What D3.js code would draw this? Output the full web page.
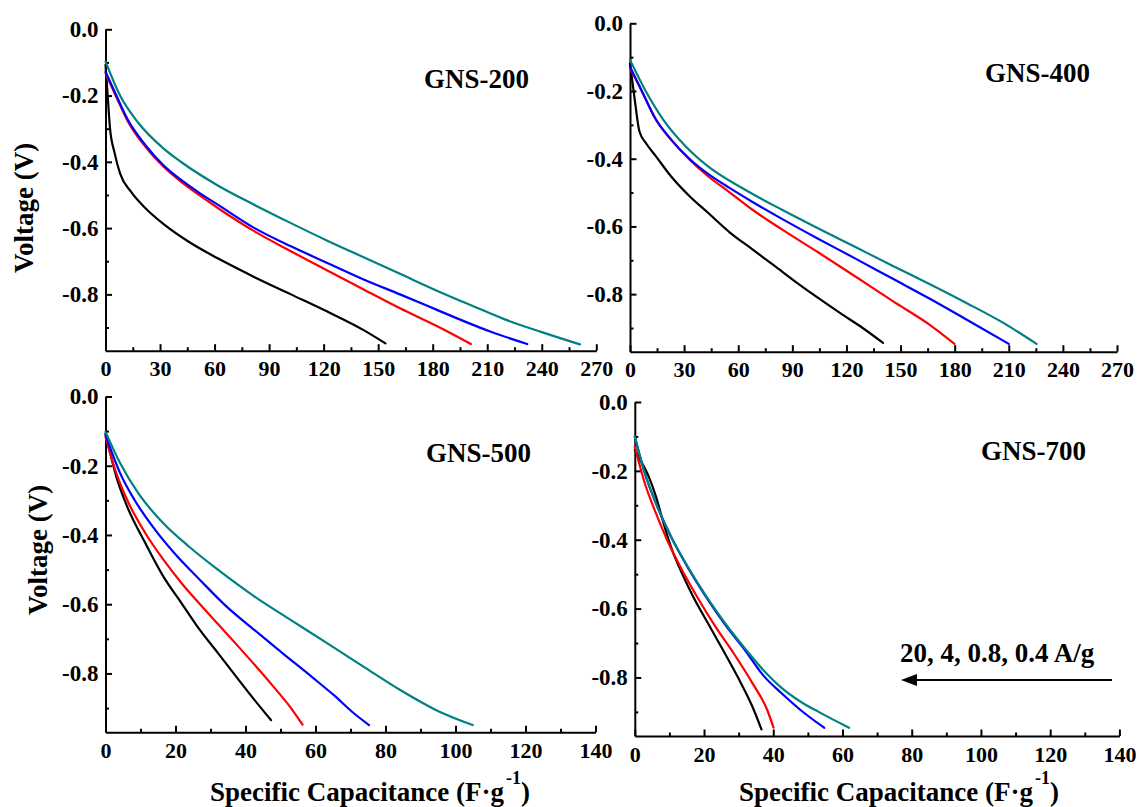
<!DOCTYPE html>
<html><head><meta charset="utf-8">
<script src="https://cdn.jsdelivr.net/npm/d3@7"></script>
<style>
body{margin:0;background:#fff}
svg{display:block;background:#fff}
text{font-family:"Liberation Serif","Times New Roman",serif;font-weight:bold;fill:#000}
</style>
</head><body>
<svg id="chart" width="1139" height="807"></svg>
<script>
// ---------- data ----------
const seriesNames = ["20 A/g", "4 A/g", "0.8 A/g", "0.4 A/g"];
const seriesColors = ["#000000", "#ff0000", "#0000ff", "#008080"];
const panelTitles = ["GNS-200", "GNS-400", "GNS-500", "GNS-700"];
const xTicksWide = [0, 30, 60, 90, 120, 150, 180, 210, 240, 270];
const xMinorWide = [15, 45, 75, 105, 135, 165, 195, 225, 255];
const xTicksNarrow = [0, 20, 40, 60, 80, 100, 120, 140];
const xMinorNarrow = [10, 30, 50, 70, 90, 110, 130];
const yTicks = [0, -0.2, -0.4, -0.6, -0.8];
const yMinor = [-0.1, -0.3, -0.5, -0.7, -0.9];
const xTitle = "Specific Capacitance (F·g";
const xTitleSup = "-1";
const yTitle = "Voltage (V)";
const rateNote = "20, 4, 0.8, 0.4 A/g";

// [capacitance F/g, voltage V]
const gns200_20 = [[0,-0.107],[1.2,-0.2],[2.5,-0.30],[5,-0.373],[8,-0.435],[14,-0.49],[22,-0.54],[32,-0.588],[46,-0.642],[62,-0.692],[82,-0.748],[102,-0.8],[122,-0.852],[142,-0.908],[154,-0.948]];
const gns200_4 = [[0,-0.133],[6,-0.205],[12,-0.275],[22,-0.355],[32,-0.415],[42,-0.462],[52,-0.502],[62,-0.54],[82,-0.61],[102,-0.67],[122,-0.728],[142,-0.785],[162,-0.842],[182,-0.895],[201,-0.95]];
const gns200_08 = [[0,-0.128],[6,-0.2],[12,-0.27],[22,-0.35],[32,-0.411],[42,-0.456],[52,-0.495],[62,-0.53],[82,-0.6],[102,-0.655],[122,-0.705],[142,-0.755],[162,-0.8],[182,-0.846],[195,-0.876],[212,-0.913],[232,-0.95]];
const gns200_04 = [[0,-0.097],[8,-0.2],[18,-0.282],[32,-0.36],[42,-0.402],[62,-0.472],[82,-0.53],[102,-0.585],[122,-0.638],[142,-0.688],[162,-0.738],[182,-0.788],[202,-0.835],[219,-0.874],[240,-0.914],[261,-0.951]];

const gns400_20 = [[0,-0.118],[2.5,-0.22],[5.2,-0.319],[9,-0.355],[14.4,-0.393],[22.6,-0.451],[32.9,-0.51],[43.1,-0.559],[55.4,-0.618],[67.7,-0.667],[80,-0.716],[92.2,-0.765],[104.5,-0.812],[116.8,-0.857],[129,-0.9],[140.3,-0.944]];
const gns400_4 = [[0,-0.132],[6.2,-0.196],[14.4,-0.285],[22.6,-0.343],[32.9,-0.402],[43.1,-0.451],[55.4,-0.5],[67.7,-0.55],[84,-0.608],[104.5,-0.677],[125,-0.748],[145.5,-0.82],[166,-0.89],[179.9,-0.947]];
const gns400_08 = [[0,-0.128],[6.2,-0.196],[14.4,-0.284],[22.6,-0.342],[32.9,-0.4],[43.1,-0.444],[55.4,-0.487],[67.7,-0.527],[84,-0.577],[104.5,-0.637],[125,-0.695],[145.5,-0.754],[166,-0.813],[186.5,-0.875],[210,-0.947]];
const gns400_04 = [[0,-0.108],[8.3,-0.196],[18.5,-0.285],[30.8,-0.363],[43.1,-0.422],[63.6,-0.491],[84,-0.55],[104.5,-0.606],[125,-0.661],[145.5,-0.716],[166,-0.77],[186.5,-0.826],[207,-0.885],[225.4,-0.947]];

const gns500_20 = [[0,-0.107],[3.1,-0.232],[6.2,-0.318],[11.4,-0.424],[16.6,-0.521],[21.8,-0.598],[27,-0.675],[32.2,-0.742],[37.4,-0.81],[42.6,-0.877],[47.3,-0.935]];
const gns500_4 = [[0,-0.116],[3.1,-0.222],[6.2,-0.299],[11.4,-0.395],[16.6,-0.472],[21.8,-0.54],[27,-0.6],[32.2,-0.658],[37.4,-0.716],[42.6,-0.775],[47.8,-0.836],[53,-0.9],[56.3,-0.948]];
const gns500_08 = [[0,-0.111],[4.2,-0.222],[8.3,-0.299],[13.5,-0.376],[19.7,-0.453],[27,-0.53],[34.3,-0.604],[42.6,-0.675],[50.9,-0.744],[59.2,-0.812],[65.5,-0.865],[70.6,-0.912],[75.3,-0.949]];
const gns500_04 = [[0,-0.102],[4.2,-0.193],[9.4,-0.28],[16.6,-0.367],[23.9,-0.434],[32.2,-0.501],[42.6,-0.578],[53,-0.646],[63.4,-0.713],[73.8,-0.781],[84.2,-0.848],[94.5,-0.906],[104.9,-0.949]];

const gns700_20 = [[0,-0.139],[1.3,-0.163],[4,-0.216],[6.1,-0.274],[8.3,-0.352],[10.4,-0.419],[13.6,-0.497],[16.8,-0.564],[21.1,-0.642],[25.4,-0.719],[29.6,-0.796],[33.9,-0.883],[36.6,-0.951]];
const gns700_4 = [[0,-0.129],[2.9,-0.236],[6.1,-0.323],[9.3,-0.4],[13.6,-0.487],[17.9,-0.564],[23.2,-0.651],[28.5,-0.729],[33.9,-0.815],[38.2,-0.893],[40.1,-0.946]];
const gns700_08 = [[0,-0.1],[2.9,-0.207],[6.1,-0.294],[10.4,-0.39],[15.7,-0.487],[21.1,-0.574],[26.4,-0.651],[31.7,-0.719],[37.1,-0.794],[42.4,-0.846],[47.7,-0.893],[54.7,-0.946]];
const gns700_04 = [[0,-0.1],[2.9,-0.207],[6.1,-0.294],[10.4,-0.39],[15.7,-0.485],[21.1,-0.571],[26.4,-0.647],[31.7,-0.714],[37.1,-0.778],[42.4,-0.83],[47.7,-0.869],[53.1,-0.9],[61.9,-0.946]];

// ---------- layout ----------
const panels = [
  {title: panelTitles[0], series:[gns200_20,gns200_4,gns200_08,gns200_04], xMax:270, ticks:xTicksWide, minor:xMinorWide,
   x0:105.5, x1:596.3, yT:29.3, yB:350.7, tx:424, ty:88, yTitleX:33, yTitleY:208, showY:true, showX:false},
  {title: panelTitles[1], series:[gns400_20,gns400_4,gns400_08,gns400_04], xMax:270, ticks:xTicksWide, minor:xMinorWide,
   x0:630, x1:1117, yT:23.3, yB:351.7, tx:985, ty:82, showY:false, showX:false},
  {title: panelTitles[2], series:[gns500_20,gns500_4,gns500_08,gns500_04], xMax:140, ticks:xTicksNarrow, minor:xMinorNarrow,
   x0:105.5, x1:595.5, yT:396.5, yB:732.3, tx:426, ty:462, yTitleX:47, yTitleY:550, showY:true, showX:true, xTitleX:370},
  {title: panelTitles[3], series:[gns700_20,gns700_4,gns700_08,gns700_04], xMax:140, ticks:xTicksNarrow, minor:xMinorNarrow,
   x0:634.8, x1:1119.4, yT:402, yB:736, tx:981, ty:460, showY:false, showX:true, xTitleX:899}
];
const yMin = -0.97;

const svg = d3.select("#chart");
svg.append("rect").attr("width",1139).attr("height",807).attr("fill","#fff");

function styleAxis(g, fs){
  g.attr("font-family", null).attr("font-size", null);
  g.selectAll("path.domain").attr("stroke","#000").attr("stroke-width",2);
  g.selectAll(".tick line").attr("stroke","#000").attr("stroke-width",2);
  g.selectAll(".tick text").attr("font-size", fs).attr("fill","#000");
}

panels.forEach(p => {
  const x = d3.scaleLinear().domain([0, p.xMax]).range([p.x0, p.x1]);
  const y = d3.scaleLinear().domain([yMin, 0]).range([p.yB, p.yT]);
  const g = svg.append("g");

  // minor ticks
  g.append("g").attr("transform",`translate(0,${p.yB})`)
    .call(d3.axisBottom(x).tickValues(p.minor).tickSize(-3.5).tickFormat(""))
    .call(s => { s.select(".domain").remove(); s.selectAll(".tick line").attr("stroke","#000").attr("stroke-width",2); });
  g.append("g").attr("transform",`translate(${p.x0},0)`)
    .call(d3.axisLeft(y).tickValues(yMinor).tickSize(-3.5).tickFormat(""))
    .call(s => { s.select(".domain").remove(); s.selectAll(".tick line").attr("stroke","#000").attr("stroke-width",2); });

  // major axes
  g.append("g").attr("transform",`translate(0,${p.yB})`)
    .call(d3.axisBottom(x).tickValues(p.ticks).tickSizeInner(-6.5).tickSizeOuter(0).tickPadding(10).tickFormat(d3.format("d")))
    .call(s => styleAxis(s, 22));
  g.append("g").attr("transform",`translate(${p.x0},0)`)
    .call(d3.axisLeft(y).tickValues(yTicks).tickSizeInner(-6.5).tickSizeOuter(0).tickPadding(7).tickFormat(d => d.toFixed(1)))
    .call(s => styleAxis(s, 23));

  // curves
  const line = d3.line().x(d => x(d[0])).y(d => y(d[1])).curve(d3.curveMonotoneX);
  p.series.forEach((s, i) => {
    g.append("path").datum(s).attr("d", line).attr("fill","none")
      .attr("stroke", seriesColors[i]).attr("stroke-width", 2.2)
      .attr("stroke-linejoin","round").attr("stroke-linecap","round");
  });

  // panel title
  g.append("text").attr("x", p.tx).attr("y", p.ty).attr("font-size", 27).text(p.title);

  if (p.showY) {
    g.append("text").attr("transform", `translate(${p.yTitleX},${p.yTitleY}) rotate(-90)`)
      .attr("text-anchor","middle").attr("font-size", 27).text(yTitle);
  }
  if (p.showX) {
    const t = g.append("text").attr("x", p.xTitleX).attr("y", 801).attr("text-anchor","middle").attr("font-size", 27);
    t.append("tspan").text(xTitle);
    t.append("tspan").attr("font-size", 18).attr("dy", -17).attr("dx", 2).text(xTitleSup);
    t.append("tspan").attr("dy", 17).text(")");
  }
});

// rate annotation with arrow (bottom-right panel)
svg.append("text").attr("x", 900).attr("y", 662).attr("font-size", 27).text(rateNote);
svg.append("line").attr("x1", 1112).attr("y1", 680).attr("x2", 912).attr("y2", 680)
  .attr("stroke","#000").attr("stroke-width",2);
svg.append("path").attr("d","M901,680 L917,674 L917,686 Z").attr("fill","#000");
</script>
</body></html>
